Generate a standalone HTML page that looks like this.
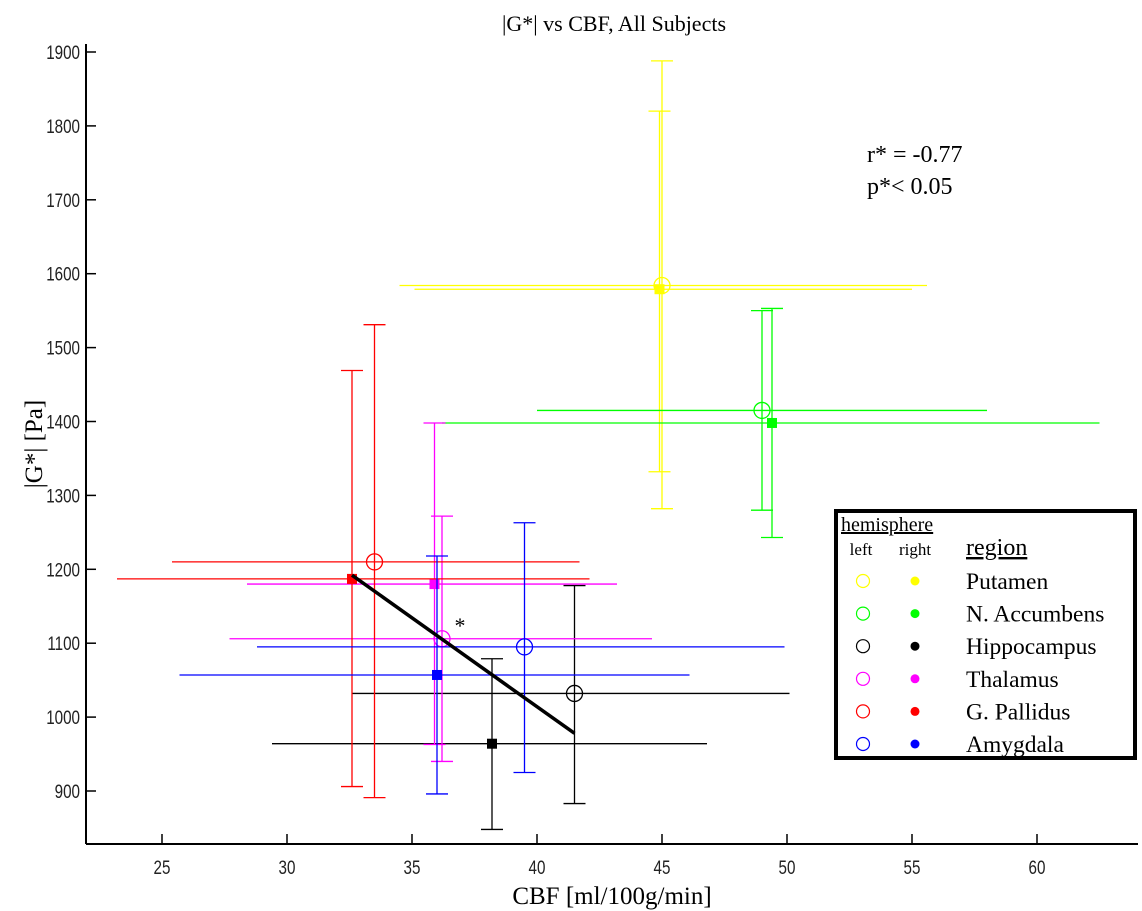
<!DOCTYPE html>
<html><head><meta charset="utf-8"><style>
html,body{margin:0;padding:0;background:#fff;}
svg{display:block;}
</style></head><body>
<svg id="chart" width="1142" height="911" xmlns="http://www.w3.org/2000/svg"></svg>
<script>
const regions=["Putamen","N. Accumbens","Hippocampus","Thalamus","G. Pallidus","Amygdala"];
const colors=["#ffff00","#00ff00","#000000","#ff00ff","#ff0000","#0000ff"];
// left hemisphere
const leftX=[45.0,49.0,41.5,36.2,33.5,39.5];
const leftY=[1584,1415,1032,1106,1210,1095];
const leftYLo=[1282,1280,883,940,891,925];
const leftYHi=[1888,1550,1178,1272,1531,1263];
const leftXLo=[34.5,40.0,32.6,27.7,25.4,28.8];
const leftXHi=[55.6,58.0,50.1,44.6,41.7,49.9];
// right hemisphere
const rightX=[44.9,49.4,38.2,35.9,32.6,36.0];
const rightY=[1579,1398,964,1180,1187,1057];
const rightYLo=[1332,1243,848,963,906,896];
const rightYHi=[1820,1553,1079,1398,1469,1218];
const rightXLo=[35.1,36.2,29.4,28.4,23.2,25.7];
const rightXHi=[55.0,62.5,46.8,43.2,42.1,46.1];
const fitX=[32.6,41.5];
const fitY=[1192,978];
const xTicks=[25,30,35,40,45,50,55,60];
const yTicks=[900,1000,1100,1200,1300,1400,1500,1600,1700,1800,1900];

const svg=document.getElementById('chart');
const NS='http://www.w3.org/2000/svg';
function sx(v){return 162+(v-25)*25.0;}
function sy(v){return 52+(1900-v)*0.739;}
function el(tag,attrs,parent){const e=document.createElementNS(NS,tag);for(const k in attrs)e.setAttribute(k,attrs[k]);(parent||svg).appendChild(e);return e;}
function txt(s,attrs,parent){const e=el('text',attrs,parent);e.textContent=s;return e;}

const axes=el('g',{});


el('line',{x1:86,y1:844,x2:1138,y2:844,stroke:'#000','stroke-width':2},axes);
el('line',{x1:86,y1:44,x2:86,y2:844,stroke:'#000','stroke-width':2},axes);
xTicks.forEach(t=>{
  const x=sx(t);
  const tk=el('line',{x1:x,y1:844,x2:x,y2:834,stroke:'#000','stroke-width':1.5},axes);
  
  
  const lb=txt(String(t),{x:x,y:874,'text-anchor':'middle','font-family':'Liberation Sans, sans-serif','font-size':19,fill:'#222',transform:`translate(${x},0) scale(0.8,1) translate(${-x},0)`},axes);
  
  
});
yTicks.forEach(t=>{
  const y=sy(t);
  const tk=el('line',{x1:86,y1:y,x2:96,y2:y,stroke:'#000','stroke-width':1.5},axes);
  
  
  const lb=txt(String(t),{x:80,y:y+7,'text-anchor':'end','font-family':'Liberation Sans, sans-serif','font-size':19,fill:'#222',transform:`translate(80,0) scale(0.8,1) translate(-80,0)`},axes);
  
  
});
const title=txt('|G*| vs CBF, All Subjects',{x:614,y:31,'text-anchor':'middle','font-family':'Liberation Serif, serif','font-size':22});


const xt=txt('CBF [ml/100g/min]',{x:612,y:904,'text-anchor':'middle','font-family':'Liberation Serif, serif','font-size':25});


const yt=txt('|G*| [Pa]',{x:0,y:0,'text-anchor':'middle','font-family':'Liberation Serif, serif','font-size':25,transform:'translate(42,444) rotate(-90)'});



function errbars(g,x,y,ylo,yhi,xlo,xhi,c){
  const X=sx(x),Y=sy(y);
  el('line',{x1:X,y1:sy(ylo),x2:X,y2:sy(yhi),stroke:c,'stroke-width':1.3},g);
  el('line',{x1:X-11,y1:sy(ylo),x2:X+11,y2:sy(ylo),stroke:c,'stroke-width':1.3},g);
  el('line',{x1:X-11,y1:sy(yhi),x2:X+11,y2:sy(yhi),stroke:c,'stroke-width':1.3},g);
  el('line',{x1:sx(xlo),y1:Y,x2:sx(xhi),y2:Y,stroke:c,'stroke-width':1.3},g);
}
for(let i=0;i<regions.length;i++){
  const g=el('g',{});
  
  
  errbars(g,leftX[i],leftY[i],leftYLo[i],leftYHi[i],leftXLo[i],leftXHi[i],colors[i]);
  const m=el('circle',{cx:sx(leftX[i]),cy:sy(leftY[i]),r:8,fill:'none',stroke:colors[i],'stroke-width':1.3},g);
  
  
  const g2=el('g',{});
  
  
  errbars(g2,rightX[i],rightY[i],rightYLo[i],rightYHi[i],rightXLo[i],rightXHi[i],colors[i]);
  const s=el('rect',{x:sx(rightX[i])-5,y:sy(rightY[i])-5,width:10,height:10,fill:colors[i]},g2);
  
  
}
const fit=el('line',{x1:sx(fitX[0]),y1:sy(fitY[0]),x2:sx(fitX[1]),y2:sy(fitY[1]),stroke:'#000','stroke-width':3.5});


const ast=txt('*',{x:460,y:633,'text-anchor':'middle','font-family':'Liberation Serif, serif','font-size':22});


const r1=txt('r* = -0.77',{x:867,y:162,'font-family':'Liberation Serif, serif','font-size':24});


const r2=txt('p*< 0.05',{x:867,y:194,'font-family':'Liberation Serif, serif','font-size':24});



const lg=el('g',{});


el('rect',{x:836,y:511,width:299,height:247,fill:'#fff',stroke:'#000','stroke-width':4},lg);
txt('hemisphere',{x:841,y:531,'font-family':'Liberation Serif, serif','font-size':20,'text-decoration':'underline'},lg);
txt('left',{x:861,y:555,'text-anchor':'middle','font-family':'Liberation Serif, serif','font-size':17},lg);
txt('right',{x:915,y:555,'text-anchor':'middle','font-family':'Liberation Serif, serif','font-size':17},lg);
txt('region',{x:966,y:555,'font-family':'Liberation Serif, serif','font-size':24,'text-decoration':'underline'},lg);
for(let i=0;i<regions.length;i++){
  const y=581+i*32.6;
  const e=el('g',{},lg);
  
  
  el('circle',{cx:863,cy:y,r:6.5,fill:'none',stroke:colors[i],'stroke-width':1.2},e);
  el('circle',{cx:915,cy:y,r:4.5,fill:colors[i]},e);
  txt(regions[i],{x:966,y:y+8,'font-family':'Liberation Serif, serif','font-size':23.5},e);
}
</script>
</body></html>
